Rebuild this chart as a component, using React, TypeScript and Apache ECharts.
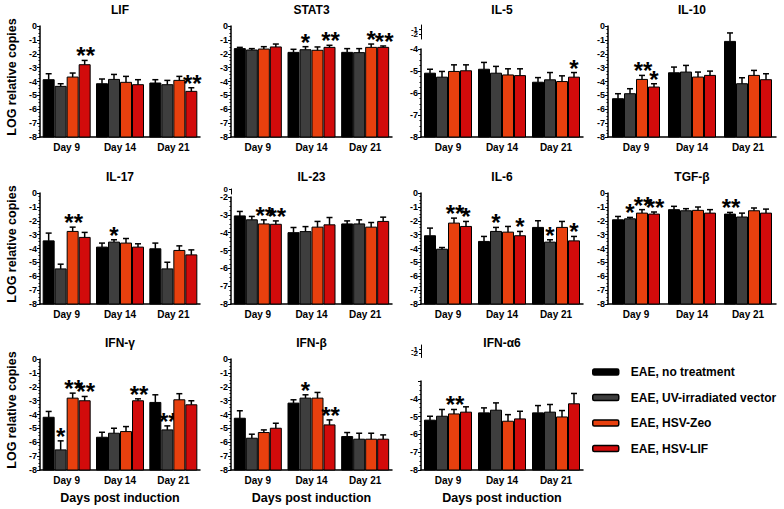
import React, { useEffect, useRef } from "react";
import * as echarts from "echarts";

const DAYS = ["Day 9", "Day 14", "Day 21"];
const GROUPS = ["EAE, no treatment", "EAE, UV-irradiated vector", "EAE, HSV-Zeo", "EAE, HSV-LIF"];
const COLORS = ["#000000", "#3e3e3e", "#e8400e", "#d20b0b"];
const Y_MIN = -8;

// values: [day][group]  (mean, upper error, significance stars)
const LIF_MEAN = [[-3.87, -4.35, -3.68, -2.79], [-4.16, -3.85, -4.06, -4.23], [-4.11, -4.23, -3.92, -4.71]];
const LIF_ERR = [[0.43, 0.19, 0.29, 0.31], [0.34, 0.36, 0.43, 0.36], [0.24, 0.31, 0.29, 0.26]];
const LIF_SIG = [[0, 0, 0, 2], [0, 0, 0, 0], [0, 0, 0, 2]];

const STAT3_MEAN = [[-1.63, -1.73, -1.66, -1.51], [-1.9, -1.71, -1.75, -1.54], [-1.9, -1.92, -1.54, -1.54]];
const STAT3_ERR = [[0.09, 0.1, 0.17, 0.21], [0.22, 0.22, 0.24, 0.15], [0.27, 0.29, 0.24, 0.1]];
const STAT3_SIG = [[0, 0, 0, 0], [0, 1, 0, 2], [0, 0, 1, 2]];

const IL5_MEAN = [[-5.1, -5.28, -5.02, -4.99], [-4.92, -5.1, -5.18, -5.21], [-5.51, -5.4, -5.48, -5.28]];
const IL5_ERR = [[0.18, 0.26, 0.3, 0.27], [0.31, 0.31, 0.28, 0.31], [0.21, 0.33, 0.26, 0.21]];
const IL5_SIG = [[0, 0, 0, 0], [0, 0, 0, 0], [0, 0, 0, 1]];

const IL10_MEAN = [[-5.24, -4.88, -3.85, -4.4], [-3.37, -3.32, -3.68, -3.56], [-1.11, -4.16, -3.56, -3.87]];
const IL10_ERR = [[0.36, 0.36, 0.29, 0.24], [0.41, 0.48, 0.36, 0.31], [0.61, 0.43, 0.36, 0.43]];
const IL10_SIG = [[0, 0, 2, 1], [0, 0, 0, 0], [0, 0, 0, 0]];

const IL17_MEAN = [[-3.45, -5.47, -2.77, -3.2], [-3.9, -3.54, -3.61, -3.9], [-4.02, -5.47, -4.14, -4.46]];
const IL17_ERR = [[0.56, 0.34, 0.31, 0.36], [0.29, 0.17, 0.33, 0.24], [0.41, 0.48, 0.33, 0.36]];
const IL17_SIG = [[0, 0, 2, 0], [0, 1, 0, 0], [0, 0, 0, 0]];

const IL23_MEAN = [[-3.06, -3.28, -3.51, -3.53], [-4.0, -3.94, -3.69, -3.56], [-3.51, -3.51, -3.69, -3.37]];
const IL23_ERR = [[0.25, 0.19, 0.23, 0.19], [0.29, 0.28, 0.32, 0.41], [0.17, 0.23, 0.26, 0.24]];
const IL23_SIG = [[0, 0, 2, 2], [0, 0, 0, 0], [0, 0, 0, 0]];

const IL6_MEAN = [[-3.08, -4.05, -2.17, -2.41], [-3.49, -2.77, -2.82, -3.08], [-2.48, -3.54, -2.48, -3.45]];
const IL6_ERR = [[0.55, 0.12, 0.36, 0.36], [0.36, 0.29, 0.41, 0.31], [0.48, 0.17, 0.43, 0.32]];
const IL6_SIG = [[0, 0, 2, 1], [0, 1, 0, 1], [0, 1, 0, 1]];

const TGFB_MEAN = [[-1.93, -1.86, -1.45, -1.52], [-1.2, -1.28, -1.25, -1.45], [-1.52, -1.73, -1.28, -1.45]];
const TGFB_ERR = [[0.24, 0.1, 0.25, 0.15], [0.24, 0.15, 0.24, 0.25], [0.12, 0.28, 0.2, 0.29]];
const TGFB_SIG = [[0, 1, 2, 2], [0, 0, 0, 0], [2, 0, 0, 0]];

const IFNG_MEAN = [[-4.2, -6.55, -2.82, -3.01], [-5.64, -5.35, -5.23, -3.01], [-3.13, -5.11, -2.94, -3.3]];
const IFNG_ERR = [[0.42, 0.65, 0.36, 0.31], [0.36, 0.36, 0.36, 0.14], [0.55, 0.29, 0.44, 0.29]];
const IFNG_SIG = [[0, 1, 2, 2], [0, 0, 0, 2], [0, 2, 0, 0]];

const IFNB_MEAN = [[-4.27, -5.71, -5.3, -4.99], [-3.18, -2.82, -2.82, -4.75], [-5.59, -5.78, -5.78, -5.78]];
const IFNB_ERR = [[0.54, 0.29, 0.19, 0.36], [0.24, 0.24, 0.41, 0.36], [0.29, 0.43, 0.43, 0.31]];
const IFNB_SIG = [[0, 0, 0, 0], [0, 1, 0, 2], [0, 0, 0, 0]];

const IFNA6_MEAN = [[-5.2, -4.98, -4.85, -4.75], [-4.79, -4.64, -5.26, -5.13], [-4.79, -4.75, -5.02, -4.28]];
const IFNA6_ERR = [[0.22, 0.38, 0.25, 0.3], [0.28, 0.41, 0.37, 0.43], [0.41, 0.43, 0.36, 0.58]];
const IFNA6_SIG = [[0, 0, 2, 0], [0, 0, 0, 0], [0, 0, 0, 0]];

const Y_TITLE = "LOG relative copies";
const X_TITLE = "Days post induction";

// ---- layout ----
const FONT = "Arial, 'Liberation Sans', sans-serif";
const COL_LEFT = [40, 231, 421, 608];
const COL_W = [160, 161, 162, 168];
const ROW_TOP = [26, 193, 359];
const ROW_BOTTOM = [137, 304, 470];
const BW = 11;
const GAP = 1;

type Mini = { top: number; h: number; min: number };
type Panel = {
  title: string; mean: number[][]; err: number[][]; sig: number[][];
  row: number; col: number; max?: number; top?: number; hideMax?: boolean; mini?: Mini;
};

const PANELS: Panel[] = [
  { title: "LIF", mean: LIF_MEAN, err: LIF_ERR, sig: LIF_SIG, row: 0, col: 0 },
  { title: "STAT3", mean: STAT3_MEAN, err: STAT3_ERR, sig: STAT3_SIG, row: 0, col: 1 },
  { title: "IL-5", mean: IL5_MEAN, err: IL5_ERR, sig: IL5_SIG, row: 0, col: 2, max: -4, top: 49, mini: { top: 25, h: 14, min: -3 } },
  { title: "IL-10", mean: IL10_MEAN, err: IL10_ERR, sig: IL10_SIG, row: 0, col: 3 },
  { title: "IL-17", mean: IL17_MEAN, err: IL17_ERR, sig: IL17_SIG, row: 1, col: 0 },
  { title: "IL-23", mean: IL23_MEAN, err: IL23_ERR, sig: IL23_SIG, row: 1, col: 1, max: -2, top: 197, mini: { top: 189, h: 5, min: -1 } },
  { title: "IL-6", mean: IL6_MEAN, err: IL6_ERR, sig: IL6_SIG, row: 1, col: 2 },
  { title: "TGF-β", mean: TGFB_MEAN, err: TGFB_ERR, sig: TGFB_SIG, row: 1, col: 3 },
  { title: "IFN-γ", mean: IFNG_MEAN, err: IFNG_ERR, sig: IFNG_SIG, row: 2, col: 0 },
  { title: "IFN-β", mean: IFNB_MEAN, err: IFNB_ERR, sig: IFNB_SIG, row: 2, col: 1 },
  { title: "IFN-α6", mean: IFNA6_MEAN, err: IFNA6_ERR, sig: IFNA6_SIG, row: 2, col: 2, max: -3, top: 381, hideMax: true, mini: { top: 345, h: 12.5, min: -3 } },
];

function makeRender(k: number) {
  return (params: any, api: any) => {
    const d = api.value(0);
    const m = api.value(1);
    const e = api.value(2);
    const s = api.value(3);
    const base = api.coord([d, Y_MIN]);
    const tp = api.coord([d, m]);
    const et = api.coord([d, m + e]);
    const cx = base[0] + (k - 1.5) * (BW + GAP);
    const children: any[] = [
      { type: "rect", shape: { x: cx - BW / 2, y: tp[1], width: BW, height: base[1] - tp[1] }, style: { fill: COLORS[k], stroke: "#000", lineWidth: 1 } },
      { type: "line", shape: { x1: cx, y1: tp[1], x2: cx, y2: et[1] }, style: { stroke: "#000", lineWidth: 1.5 } },
      { type: "line", shape: { x1: cx - 3, y1: et[1], x2: cx + 3, y2: et[1] }, style: { stroke: "#000", lineWidth: 1.5 } },
    ];
    if (s > 0) {
      children.push({
        type: "text", x: cx + (s > 1 ? 1 : 0), y: et[1] - 4.5,
        style: { text: "*".repeat(s), align: "center", verticalAlign: "middle", fontSize: 24, fontWeight: "bold", fontFamily: FONT, fill: "#000" },
      });
    }
    return { type: "group", children };
  };
}

function buildOption() {
  const grid: any[] = [];
  const xAxis: any[] = [];
  const yAxis: any[] = [];
  const series: any[] = [];
  const graphic: any[] = [];
  const axisLine = { show: true, onZero: false, lineStyle: { color: "#000", width: 1.5 } };
  const labelBase = { color: "#000", fontWeight: "bold", fontFamily: FONT };

  PANELS.forEach((p) => {
    const left = COL_LEFT[p.col];
    const width = COL_W[p.col];
    const top = p.top ?? ROW_TOP[p.row];
    const bottom = ROW_BOTTOM[p.row];
    const gi = grid.length;
    grid.push({ left, top, width, height: bottom - top });
    xAxis.push({
      type: "category", gridIndex: gi, data: DAYS, axisLine, axisTick: { show: false },
      axisLabel: { ...labelBase, fontSize: 10, margin: 5 },
    });
    const max = p.max ?? 0;
    yAxis.push({
      type: "value", gridIndex: gi, min: Y_MIN, max, interval: 1, splitLine: { show: false }, axisLine,
      axisTick: { show: true, length: 3, lineStyle: { color: "#000", width: 1 } },
      minorTick: { show: true, splitNumber: 4, length: 1.5, lineStyle: { color: "#000" } },
      axisLabel: { ...labelBase, fontSize: 9, margin: 3, formatter: (v: number) => (p.hideMax && v === max ? "" : String(v)) },
    });
    for (let k = 0; k < 4; k++) {
      series.push({
        type: "custom", name: GROUPS[k], xAxisIndex: gi, yAxisIndex: gi,
        itemStyle: { color: COLORS[k], borderColor: "#000" },
        encode: { x: 0, y: 1 },
        data: DAYS.map((_, d) => [d, p.mean[d][k], p.err[d][k], p.sig[d][k]]),
        renderItem: makeRender(k), z: 3,
      });
    }
    if (p.mini) {
      const mi = grid.length;
      grid.push({ left, top: p.mini.top, width: 1, height: p.mini.h });
      xAxis.push({ type: "value", gridIndex: mi, show: false, min: 0, max: 1 });
      yAxis.push({
        type: "value", gridIndex: mi, min: p.mini.min, max: 0, interval: 1, splitLine: { show: false },
        axisLine: { show: true, lineStyle: { color: "#000", width: 1 } },
        axisTick: { show: true, length: 2, lineStyle: { color: "#000" } },
        axisLabel: { ...labelBase, fontSize: 8, margin: 3 },
      });
    }
    graphic.push({
      type: "text", x: left + width / 2, y: ROW_TOP[p.row] - 16,
      style: { text: p.title, align: "center", verticalAlign: "middle", fontSize: 12, fontWeight: "bold", fontFamily: FONT, fill: "#000" },
    });
    if (p.row === 2) {
      graphic.push({
        type: "text", x: left + width / 2, y: 498,
        style: { text: X_TITLE, align: "center", verticalAlign: "middle", fontSize: 12.5, fontWeight: "bold", fontFamily: FONT, fill: "#000" },
      });
    }
  });

  ROW_TOP.forEach((t) => {
    graphic.push({
      type: "text", x: 12, y: t + 51, rotation: Math.PI / 2,
      style: { text: Y_TITLE, align: "center", verticalAlign: "middle", fontSize: 12.5, fontWeight: "bold", fontFamily: FONT, fill: "#000" },
    });
  });

  return {
    animation: false,
    textStyle: { fontFamily: FONT },
    grid, xAxis, yAxis, series, graphic,
    legend: {
      orient: "vertical", left: 592, top: 365, padding: 0, itemWidth: 26, itemHeight: 6, itemGap: 11.5,
      icon: "roundRect", selectedMode: false,
      data: GROUPS.map((n, k) => ({ name: n, icon: "roundRect", itemStyle: { color: COLORS[k], borderColor: "#000", borderWidth: 1.5 } })),
      textStyle: { fontSize: 12, fontWeight: "bold", fontFamily: FONT, color: "#000", lineHeight: 14, padding: [0, 0, 0, 7] },
    },
  };
}

export default function App() {
  const ref = useRef<HTMLDivElement>(null);
  useEffect(() => {
    if (!ref.current) return;
    const chart = echarts.init(ref.current, null, { renderer: "svg" });
    chart.setOption(buildOption() as any);
    return () => chart.dispose();
  }, []);
  return <div ref={ref} style={{ position: "absolute", left: 0, top: 0, width: 784, height: 509, background: "#fff" }} />;
}
